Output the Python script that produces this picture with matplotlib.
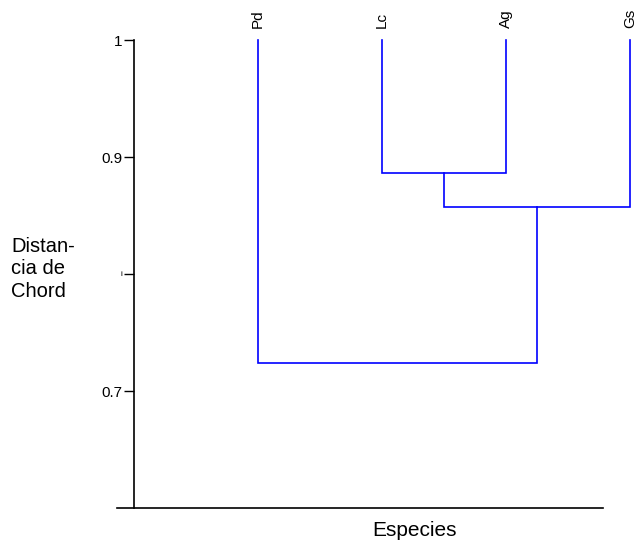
import numpy as np
import matplotlib
matplotlib.use("Agg")
import matplotlib.pyplot as plt

plt.rcParams["font.family"] = ["Liberation Sans", "DejaVu Sans"]

# leaves and merge steps (similarity)
species = ["Pd", "Lc", "Ag", "Gs"]
leaf_height = 1.0
merge_left = [1, 4, 0]      # index of node: 0..3 leaves, 4.. clusters
merge_right = [2, 3, 5]
merge_height = [0.886, 0.857, 0.724]

yticks = [0.7, 0.8, 0.9, 1.0]
yticklabels = ["0.7", "i", "0.9", "1"]

fig = plt.figure(figsize=(6.36, 5.46), dpi=100)
W, H = 636, 546
ax = fig.add_axes([117 / W, (H - 508) / H, (603 - 117) / W, (508 - 40) / H])

xpos = {i: i + 1.0 for i in range(len(species))}
ypos = {i: leaf_height for i in range(len(species))}
for k, (a, b, h) in enumerate(zip(merge_left, merge_right, merge_height)):
    node = len(species) + k
    xa, xb = xpos[a], xpos[b]
    ax.plot([xa, xa, xb, xb], [ypos[a], h, h, ypos[b]], color="#0000ff",
            lw=1.2, clip_on=False, solid_joinstyle="miter")
    xpos[node] = (xa + xb) / 2
    ypos[node] = h

for i, name in enumerate(species):
    ax.text(xpos[i], 1.0 + 0.0105, name, rotation=90, ha="center", va="bottom",
            fontsize=11, clip_on=False)

ax.set_xlim(-0.137, 3.78)
ax.set_ylim(0.6, 1.0)

for s in ["top", "right"]:
    ax.spines[s].set_visible(False)
ax.spines["left"].set_position(("data", 0))
ax.spines["left"].set_bounds(0.6, 1.0)
ax.spines["left"].set_linewidth(1.2)
ax.spines["bottom"].set_linewidth(1.2)
ax.set_xticks([])
ax.set_yticks(yticks)
ax.set_yticklabels(yticklabels, fontsize=11)
ax.tick_params(axis="y", length=7, width=1.0, pad=1.5)
ax.yaxis.get_ticklabels()[1].set_fontsize(6)

fig.text(11 / W, 1 - 269 / H, "Distan-\ncia de\nChord", ha="left", va="center",
         fontsize=14.5, linespacing=1.25)
fig.text(415 / W, 1 - 531 / H, "Especies", ha="center", va="center", fontsize=15)

fig.savefig("out.png", dpi=100)
